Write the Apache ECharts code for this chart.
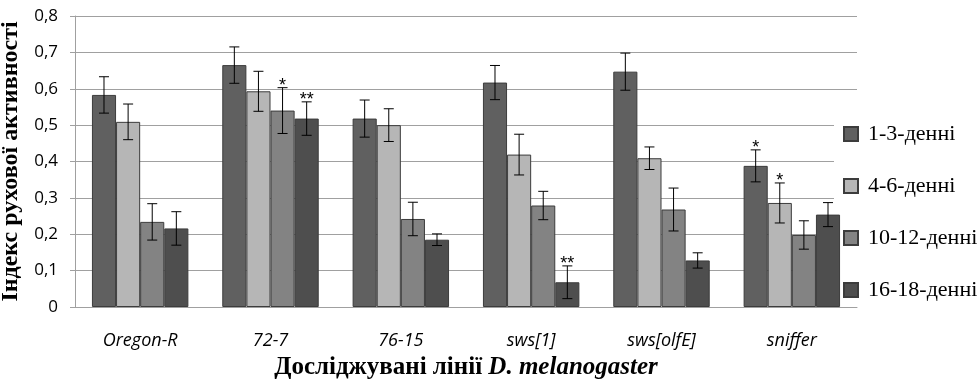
<!DOCTYPE html>
<html>
<head>
<meta charset="utf-8">
<script src="https://cdn.jsdelivr.net/npm/echarts@6/dist/echarts.min.js"></script>
<style>html,body{margin:0;padding:0;background:#fff;}#c{width:979px;height:379px;}</style>
</head>
<body>
<div id="c"></div>
<script>
const categories = ['Oregon-R', '72-7', '76-15', 'sws[1]', 'sws[olfE]', 'sniffer'];
const seriesNames = ['1-3-денні', '4-6-денні', '10-12-денні', '16-18-денні'];
const s1 = [0.583, 0.665, 0.518, 0.617, 0.647, 0.388];
const s2 = [0.509, 0.593, 0.500, 0.419, 0.409, 0.286];
const s3 = [0.234, 0.540, 0.242, 0.279, 0.268, 0.198];
const s4 = [0.216, 0.518, 0.185, 0.068, 0.128, 0.254];
const e1 = [0.050, 0.050, 0.051, 0.047, 0.051, 0.044];
const e2 = [0.049, 0.055, 0.045, 0.056, 0.031, 0.055];
const e3 = [0.050, 0.063, 0.046, 0.039, 0.059, 0.039];
const e4 = [0.046, 0.046, 0.016, 0.045, 0.021, 0.033];
const sig1 = ['', '', '', '', '', '*'];
const sig2 = ['', '', '', '', '', '*'];
const sig3 = ['', '*', '', '', '', ''];
const sig4 = ['', '**', '', '**', '', ''];
const yTicks = [0, 0.1, 0.2, 0.3, 0.4, 0.5, 0.6, 0.7, 0.8];

const values = [s1, s2, s3, s4];
const errors = [e1, e2, e3, e4];
const sigs = [sig1, sig2, sig3, sig4];
const colors = ['#606060', '#b6b6b6', '#838383', '#4e4e4e'];
const catGap = 0.26;

const series = [];
values.forEach((vals, i) => {
  series.push({
    name: seriesNames[i], type: 'bar', data: vals,
    barCategoryGap: (catGap * 100) + '%', barGap: '0%',
    itemStyle: { color: colors[i], borderColor: '#3c3c3c', borderWidth: 1 },
    emphasis: { disabled: true }
  });
});
values.forEach((vals, i) => {
  series.push({
    type: 'custom', z: 5, silent: true,
    data: vals.map((v, k) => [k, v, errors[i][k]]),
    renderItem: function (params, api) {
      const k = api.value(0), v = api.value(1), e = api.value(2);
      const mark = sigs[i][k];
      const band = api.size([1, 0])[0];
      const bw = band * (1 - catGap) / 4;
      const off = (i - 1.5) * bw;
      const top = api.coord([k, v + e]);
      const bot = api.coord([k, v - e]);
      const x = top[0] + off;
      const cap = 5;
      const st = { stroke: '#000', lineWidth: 1 };
      const children = [
        { type: 'line', shape: { x1: x, y1: top[1], x2: x, y2: bot[1] }, style: st },
        { type: 'line', shape: { x1: x - cap, y1: top[1], x2: x + cap, y2: top[1] }, style: st },
        { type: 'line', shape: { x1: x - cap, y1: bot[1], x2: x + cap, y2: bot[1] }, style: st }
      ];
      if (mark) {
        children.push({ type: 'text', style: { text: mark, x: x, y: top[1] - 2, align: 'center', verticalAlign: 'middle',
          font: '18px "Liberation Sans"', fill: '#000' } });
      }
      return { type: 'group', children: children };
    }
  });
});

const chart = echarts.init(document.getElementById('c'));
chart.setOption({
  animation: false,
  backgroundColor: '#fff',
  grid: { left: 75, right: 122, top: 16, bottom: 72, outerBoundsMode: 'none', containLabel: false },
  legend: {
    data: seriesNames, orient: 'vertical', left: 834, top: 114, z: 1,
    backgroundColor: '#fff', padding: [9, 6, 6, 9],
    itemWidth: 14, itemHeight: 14, itemGap: 30, icon: 'rect',
    textStyle: { fontFamily: 'Liberation Serif', fontSize: 22, lineHeight: 22, color: '#000', padding: [0, 0, 0, 5] }
  },
  xAxis: {
    type: 'category', data: categories,
    axisLine: { lineStyle: { color: '#a0a0a0', width: 1 } },
    axisTick: { show: false },
    axisLabel: { fontFamily: 'Open Sans', fontStyle: 'italic', fontSize: 18, color: '#000', margin: 25 },
    name: '{a|Досліджувані лінії }{b|D. melanogaster}',
    nameLocation: 'middle', nameGap: 46,
    nameTextStyle: {
      rich: {
        a: { fontFamily: 'Liberation Serif', fontWeight: 'bold', fontSize: 25, color: '#000' },
        b: { fontFamily: 'Liberation Serif', fontWeight: 'bold', fontStyle: 'italic', fontSize: 25, color: '#000' }
      }
    }
  },
  yAxis: {
    type: 'value', min: yTicks[0], max: yTicks[yTicks.length - 1], interval: yTicks[1] - yTicks[0],
    axisLine: { show: true, lineStyle: { color: '#a0a0a0', width: 1 } },
    axisTick: { show: true, length: 5, lineStyle: { color: '#a0a0a0' } },
    splitLine: { lineStyle: { color: '#a0a0a0', width: 1 } },
    axisLabel: { fontFamily: 'Open Sans', fontSize: 17, color: '#000', margin: 17,
      formatter: v => String(Math.round(v * 10) / 10).replace('.', ',') },
    name: 'Індекс рухової активності', nameLocation: 'middle', nameGap: 50,
    nameTextStyle: { fontFamily: 'Liberation Serif', fontWeight: 'bold', fontSize: 24, color: '#000' }
  },
  series: series
});
</script>
</body>
</html>
